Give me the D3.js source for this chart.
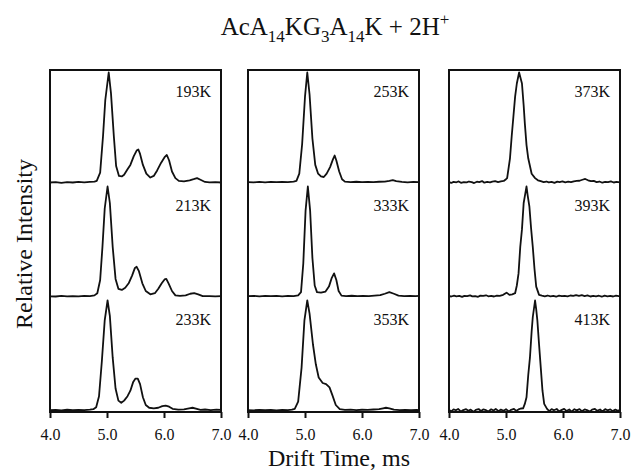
<!DOCTYPE html>
<html>
<head>
<meta charset="utf-8">
<script src="https://cdn.jsdelivr.net/npm/d3@7"></script>
<style>
  body { margin: 0; background: #fff; }
  svg text { font-family: "Liberation Serif", "Times New Roman", serif; fill: #111; }
</style>
</head>
<body>
<div id="chart"></div>
<script>
// --- DATA ---
// drift time (ms), normalised intensity
const trace193K = [[4.00,0.000],[4.10,0.004],[4.20,-0.003],[4.30,0.003],[4.40,0.000],[4.50,0.005],[4.60,0.002],[4.70,0.006],[4.78,0.008],[4.82,0.015],[4.88,0.09],[4.93,0.42],[4.97,0.75],[5.03,1.0],[5.07,0.81],[5.12,0.42],[5.16,0.15],[5.21,0.06],[5.26,0.055],[5.30,0.07],[5.36,0.12],[5.41,0.16],[5.47,0.24],[5.52,0.29],[5.55,0.30],[5.58,0.26],[5.63,0.16],[5.69,0.08],[5.76,0.045],[5.82,0.06],[5.88,0.11],[5.95,0.18],[6.01,0.23],[6.05,0.25],[6.09,0.20],[6.14,0.10],[6.20,0.04],[6.26,0.015],[6.35,0.01],[6.45,0.02],[6.52,0.03],[6.58,0.04],[6.64,0.025],[6.72,0.005],[6.80,0.002],[6.90,0.004],[7.00,0.000]];
const trace213K = [[4.00,0.002],[4.10,0.000],[4.20,0.005],[4.30,0.002],[4.40,0.004],[4.50,0.001],[4.60,0.006],[4.70,0.004],[4.78,0.010],[4.83,0.03],[4.88,0.15],[4.92,0.45],[4.96,0.80],[5.01,1.0],[5.05,0.85],[5.10,0.45],[5.15,0.16],[5.20,0.07],[5.26,0.06],[5.32,0.08],[5.38,0.12],[5.44,0.19],[5.49,0.26],[5.52,0.27],[5.56,0.23],[5.62,0.12],[5.68,0.05],[5.76,0.02],[5.84,0.03],[5.90,0.07],[5.96,0.12],[6.01,0.155],[6.04,0.16],[6.08,0.12],[6.14,0.05],[6.20,0.01],[6.28,0.005],[6.38,0.01],[6.46,0.025],[6.53,0.03],[6.60,0.02],[6.68,0.003],[6.80,0.004],[6.90,0.001],[7.00,0.003]];
const trace233K = [[4.00,0.003],[4.10,0.006],[4.20,0.002],[4.30,0.007],[4.40,0.003],[4.50,0.006],[4.60,0.004],[4.70,0.008],[4.76,0.012],[4.81,0.03],[4.86,0.13],[4.91,0.45],[4.96,0.82],[5.01,1.0],[5.05,0.86],[5.10,0.48],[5.15,0.20],[5.20,0.09],[5.25,0.07],[5.30,0.09],[5.36,0.13],[5.41,0.18],[5.46,0.26],[5.50,0.29],[5.54,0.29],[5.58,0.24],[5.63,0.12],[5.68,0.05],[5.74,0.025],[5.82,0.02],[5.90,0.025],[5.97,0.04],[6.03,0.045],[6.09,0.035],[6.15,0.015],[6.25,0.008],[6.35,0.01],[6.44,0.02],[6.50,0.025],[6.56,0.018],[6.64,0.006],[6.72,0.009],[6.82,0.004],[6.92,0.008],[7.00,0.005]];
const trace253K = [[4.00,0.004],[4.10,0.001],[4.20,0.006],[4.30,0.002],[4.40,0.005],[4.50,0.003],[4.60,0.006],[4.70,0.004],[4.80,0.008],[4.85,0.015],[4.90,0.08],[4.95,0.35],[5.00,0.78],[5.04,1.0],[5.08,0.80],[5.13,0.40],[5.18,0.16],[5.23,0.08],[5.28,0.055],[5.33,0.05],[5.38,0.08],[5.44,0.14],[5.49,0.21],[5.52,0.245],[5.55,0.20],[5.60,0.10],[5.65,0.03],[5.70,0.008],[5.80,0.004],[5.90,0.007],[6.00,0.003],[6.10,0.006],[6.20,0.004],[6.30,0.007],[6.40,0.008],[6.48,0.015],[6.54,0.022],[6.60,0.012],[6.70,0.005],[6.80,0.002],[6.90,0.006],[7.00,0.003]];
const trace333K = [[4.00,0.003],[4.10,0.006],[4.20,0.002],[4.30,0.005],[4.40,0.003],[4.50,0.006],[4.60,0.002],[4.70,0.005],[4.80,0.004],[4.88,0.010],[4.93,0.04],[4.97,0.30],[5.01,0.78],[5.05,1.0],[5.09,0.78],[5.13,0.35],[5.17,0.10],[5.21,0.04],[5.28,0.035],[5.36,0.045],[5.42,0.09],[5.47,0.17],[5.51,0.21],[5.55,0.15],[5.59,0.05],[5.64,0.008],[5.72,0.004],[5.82,0.007],[5.92,0.003],[6.02,0.006],[6.12,0.004],[6.22,0.008],[6.32,0.012],[6.40,0.025],[6.48,0.04],[6.56,0.025],[6.64,0.008],[6.74,0.004],[6.84,0.006],[6.94,0.003],[7.00,0.005]];
const trace353K = [[4.00,0.004],[4.10,0.002],[4.20,0.006],[4.30,0.003],[4.40,0.005],[4.50,0.002],[4.60,0.006],[4.70,0.004],[4.77,0.008],[4.82,0.015],[4.88,0.08],[4.94,0.39],[4.99,0.82],[5.04,1.0],[5.08,0.88],[5.14,0.60],[5.19,0.42],[5.24,0.30],[5.31,0.25],[5.37,0.24],[5.43,0.21],[5.48,0.14],[5.54,0.05],[5.61,0.012],[5.70,0.006],[5.80,0.008],[5.90,0.004],[6.00,0.007],[6.10,0.005],[6.20,0.009],[6.30,0.012],[6.37,0.02],[6.42,0.025],[6.48,0.02],[6.56,0.008],[6.66,0.004],[6.76,0.006],[6.86,0.003],[6.96,0.005],[7.00,0.004]];
const trace373K = [[4.00,0.004],[4.04,-0.004],[4.08,0.006],[4.13,0.002],[4.17,0.010],[4.21,-0.003],[4.26,0.004],[4.31,0.001],[4.35,0.009],[4.40,0.003],[4.44,-0.005],[4.49,0.007],[4.53,0.004],[4.58,0.013],[4.62,-0.002],[4.67,0.005],[4.72,0.001],[4.76,0.008],[4.81,0.012],[4.86,0.004],[4.91,0.010],[4.96,0.014],[5.00,0.03],[5.02,0.04],[5.07,0.22],[5.10,0.42],[5.13,0.60],[5.16,0.78],[5.19,0.90],[5.23,1.0],[5.28,0.90],[5.31,0.70],[5.33,0.54],[5.36,0.34],[5.39,0.22],[5.45,0.08],[5.51,0.04],[5.56,0.02],[5.61,0.012],[5.66,0.004],[5.71,0.009],[5.75,0.001],[5.80,0.006],[5.85,-0.003],[5.90,0.008],[5.94,0.004],[5.99,0.010],[6.04,0.002],[6.09,0.007],[6.14,0.003],[6.19,0.011],[6.24,0.014],[6.29,0.016],[6.34,0.025],[6.39,0.032],[6.44,0.020],[6.49,0.012],[6.54,0.015],[6.59,0.004],[6.64,0.009],[6.69,-0.002],[6.74,0.006],[6.79,0.003],[6.84,0.010],[6.89,0.000],[6.94,0.006],[7.00,0.002]];
const trace393K = [[4.00,0.004],[4.04,0.000],[4.09,0.007],[4.13,0.002],[4.18,0.006],[4.23,-0.004],[4.27,0.005],[4.32,0.003],[4.37,0.010],[4.41,0.001],[4.46,0.004],[4.51,-0.003],[4.55,0.008],[4.60,0.005],[4.65,0.011],[4.69,0.002],[4.74,0.006],[4.79,0.000],[4.84,0.008],[4.89,0.006],[4.95,0.015],[5.01,0.035],[5.06,0.015],[5.11,0.02],[5.16,0.03],[5.19,0.10],[5.22,0.21],[5.25,0.45],[5.28,0.61],[5.31,0.85],[5.33,0.91],[5.36,1.0],[5.38,0.92],[5.41,0.82],[5.44,0.62],[5.47,0.45],[5.50,0.25],[5.53,0.09],[5.58,0.015],[5.63,0.008],[5.68,0.002],[5.73,0.009],[5.78,0.001],[5.83,0.005],[5.88,-0.002],[5.93,0.008],[5.98,0.003],[6.03,0.006],[6.08,0.001],[6.13,0.009],[6.18,0.005],[6.23,0.012],[6.28,0.006],[6.33,0.012],[6.38,0.004],[6.43,0.010],[6.48,0.000],[6.53,0.006],[6.58,0.001],[6.63,0.007],[6.68,-0.002],[6.73,0.008],[6.78,0.002],[6.83,0.006],[6.88,0.000],[6.93,0.007],[7.00,0.002]];
const trace413K = [[4.00,0.006],[4.04,-0.008],[4.08,0.010],[4.12,0.002],[4.16,0.014],[4.21,-0.010],[4.25,0.004],[4.30,0.012],[4.34,-0.002],[4.38,0.008],[4.43,-0.012],[4.47,0.006],[4.52,0.013],[4.56,-0.004],[4.60,0.010],[4.65,0.003],[4.69,-0.009],[4.74,0.011],[4.78,0.000],[4.82,0.014],[4.87,-0.006],[4.91,0.008],[4.96,-0.002],[5.00,0.012],[5.05,-0.008],[5.09,0.006],[5.14,0.014],[5.18,-0.003],[5.22,0.010],[5.26,0.018],[5.30,0.02],[5.33,0.06],[5.36,0.12],[5.39,0.32],[5.42,0.48],[5.45,0.72],[5.47,0.85],[5.51,1.0],[5.53,0.92],[5.55,0.82],[5.58,0.60],[5.61,0.39],[5.64,0.18],[5.67,0.06],[5.72,0.015],[5.76,-0.006],[5.80,0.012],[5.84,0.002],[5.89,0.014],[5.93,-0.008],[5.98,0.006],[6.02,0.015],[6.06,-0.004],[6.11,0.009],[6.15,-0.010],[6.20,0.012],[6.24,0.001],[6.29,0.013],[6.33,-0.006],[6.38,0.010],[6.42,0.004],[6.47,-0.010],[6.51,0.008],[6.56,0.014],[6.60,-0.003],[6.65,0.009],[6.69,-0.009],[6.74,0.012],[6.78,0.002],[6.83,0.010],[6.87,-0.006],[6.92,0.008],[6.96,-0.002],[7.00,0.004]];

// panels are columns, each holding three temperatures top to bottom
const panelTemps = [["193K", "213K", "233K"], ["253K", "333K", "353K"], ["373K", "393K", "413K"]];
const panelTraces = [[trace193K, trace213K, trace233K], [trace253K, trace333K, trace353K], [trace373K, trace393K, trace413K]];
const xTicks = [4.0, 5.0, 6.0, 7.0];

// title pieces: 0 = normal, 1 = subscript, -1 = superscript
const titleParts = [["AcA", 0], ["14", 1], ["KG", 0], ["3", 1], ["A", 0], ["14", 1], ["K + 2H", 0], ["+", -1]];

// --- LAYOUT ---
const width = 633;
const height = 470;
const panelX = [50, 248, 449];
const panelW = 171;
const plotTop = 70;
const rowH = 114;
const plotBottom = plotTop + rowH * 3;

const svg = d3.select("#chart")
    .append("svg")
    .attr("width", width)
    .attr("height", height);

// title with sub/superscripts, dy is relative so undo the previous shift each time
const title = svg.append("text")
    .attr("x", 335)
    .attr("y", 35)
    .attr("text-anchor", "middle")
    .attr("font-size", 25);
const shift = { "0": 0, "1": 7, "-1": -10 };
let prev = 0;
titleParts.forEach(([t, s]) => {
    title.append("tspan")
        .attr("font-size", s === 0 ? 25 : 17)
        .attr("dy", shift[s] - prev)
        .text(t);
    prev = shift[s];
});

svg.append("text")
    .attr("transform", "translate(32, 244) rotate(-90)")
    .attr("text-anchor", "middle")
    .attr("font-size", 24)
    .text("Relative Intensity");

svg.append("text")
    .attr("x", 339)
    .attr("y", 466)
    .attr("text-anchor", "middle")
    .attr("font-size", 24)
    .text("Drift Time, ms");

// --- PANELS ---
const line = d3.line().curve(d3.curveLinear);

panelX.forEach((px, p) => {
    const x = d3.scaleLinear().domain([4, 7]).range([px, px + panelW]);
    const g = svg.append("g");

    panelTraces[p].forEach((trace, r) => {
        const rowTop = plotTop + r * rowH;
        const y = d3.scaleLinear().domain([0, 1]).range([rowTop + rowH - 1.5, rowTop + 2.5]);
        line.x(d => x(d[0])).y(d => y(d[1]));

        g.append("path")
            .datum(trace)
            .attr("d", line)
            .attr("fill", "none")
            .attr("stroke", "#111")
            .attr("stroke-width", 1.8)
            .attr("stroke-linejoin", "round");

        g.append("text")
            .attr("x", px + panelW - 10)
            .attr("y", rowTop + 27)
            .attr("text-anchor", "end")
            .attr("font-size", 16)
            .text(panelTemps[p][r]);
    });

    g.append("rect")
        .attr("x", px)
        .attr("y", plotTop)
        .attr("width", panelW)
        .attr("height", plotBottom - plotTop)
        .attr("fill", "none")
        .attr("stroke", "#111")
        .attr("stroke-width", 2);

    const axis = g.append("g")
        .attr("transform", `translate(0, ${plotBottom})`)
        .call(d3.axisBottom(x).tickValues(xTicks).tickSize(6).tickPadding(11).tickFormat(d3.format(".1f")));
    axis.select(".domain").remove();
    axis.selectAll(".tick line").attr("stroke", "#111").attr("stroke-width", 2);
    axis.selectAll(".tick text")
        .attr("font-family", "Liberation Serif, serif")
        .attr("font-size", 16)
        .attr("fill", "#111");
});
</script>
</body>
</html>
